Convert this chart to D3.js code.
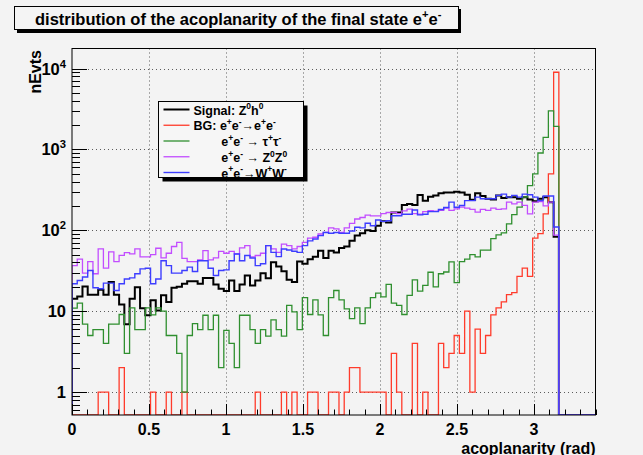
<!DOCTYPE html>
<html>
<head>
<meta charset="utf-8">
<script src="https://cdn.jsdelivr.net/npm/d3@7/dist/d3.min.js"></script>
<style>
    body { margin: 0; background: #f3f3f3; }
    text { font-family: "Liberation Sans", Arial, Helvetica, sans-serif; font-weight: bold; fill: #000; white-space: pre; }
</style>
</head>
<body>
<div id="chart"></div>
<script>
// histogram binning (100 bins over 0..3.4)
const xMin = 0, xMax = 3.4, nBins = 100;

const signal = [
    14.2, 15.2, 20.2, 16, 16, 18.4, 16, 22.9, 16, 12.1,
    6.9, 14.2, 19.8, 10.9, 8.9, 13.6, 10.2, 15.7, 13, 19.5,
    20, 21.8, 23.5, 23.5, 21.8, 25.8, 25.8, 21.4, 18.9, 17.7,
    23.9, 17.7, 21.4, 27.6, 20.7, 23.9, 29.5, 25.6, 40.3, 35.6,
    31.2, 24.4, 22.9, 41, 38.5, 44, 47, 56, 45.5, 56,
    53, 60.5, 63, 74, 86, 92, 100, 98, 114, 129,
    125, 166, 166, 205, 211, 205, 274, 232, 259, 270,
    288, 294, 294, 300, 294, 275, 238, 288, 265, 245,
    240, 270, 250, 257, 257, 245, 257, 240, 228, 245,
    257, 223, 83, 0, 0, 0, 0, 0, 0, 0
];

const bgEE = [
    0, 0, 0, 0, 0, 1, 1, 0, 0, 2,
    0, 0, 0, 0, 0, 1, 0, 0, 1, 0,
    0, 1, 0, 0, 0, 0, 0, 0, 0, 0,
    0, 0, 0, 0, 0, 1, 0, 0, 0, 0,
    1, 0, 1, 0, 0, 1, 1, 0, 0, 1,
    1, 0, 1, 2, 2, 1, 1, 1, 1, 1,
    0, 3, 1, 0, 0, 4, 0, 1, 0, 0,
    4, 2, 3, 5, 3, 10, 1, 6, 3, 5,
    9, 11, 13, 16, 17, 27, 34, 27, 80, 91,
    160, 498, 9000, 0, 0, 0, 0, 0, 0, 0
];

const bgTauTau = [
    10.9, 12.6, 6.9, 5, 5.9, 5.9, 4, 6.9, 6.9, 9.1,
    3, 11, 5.9, 5.9, 11, 9, 11, 10, 5, 5,
    3, 1, 5, 7, 5.9, 8.9, 5.9, 8.9, 2, 5.8,
    4, 2, 8.9, 8.9, 5.9, 4, 5.9, 4.9, 7.8, 5.9,
    4.9, 11.8, 9.8, 5.9, 14.7, 9.1, 13.8, 9, 5, 14.7,
    18, 13.8, 10.7, 8.1, 11, 7, 11, 14.7, 16.7, 15,
    21.4, 12.6, 11.8, 9.1, 15.7, 24.4, 17.7, 20.8, 30.3, 20,
    29, 30.5, 40.6, 22.6, 41, 44, 50, 47, 57, 57,
    79, 88, 93, 120, 156, 193, 257, 357, 498, 903,
    1408, 3000, 1923, 0, 0, 0, 0, 0, 0, 0
];

const bgZZ = [
    36.6, 44, 29.5, 41, 29, 59, 34, 54, 41, 49,
    53, 51, 59, 47, 47, 50, 60, 45.5, 52, 63,
    71, 45, 41, 41, 43, 56, 43, 45.5, 55, 52,
    55, 51, 60.5, 64.6, 47, 48.8, 52, 64.6, 59, 53.4,
    67.5, 64.6, 59, 63, 71, 80, 82, 90, 94, 107,
    104, 94, 107, 122, 138, 144, 154, 151, 151, 161,
    166, 166, 161, 174, 183, 161, 158, 170, 175, 172,
    176, 188, 176, 184, 193, 188, 181, 168, 181, 176,
    188, 181, 184, 223, 212, 223, 203, 160, 223, 226,
    200, 223, 87, 0, 0, 0, 0, 0, 0, 0
];

const bgWW = [
    21.8, 23.9, 26.4, 31.8, 19.5, 18.9, 22.2, 22.2, 18, 21.8,
    25, 25.8, 29, 33.3, 34, 21.8, 25, 42, 36.6, 29.5,
    29.5, 31.8, 35, 31, 42, 42, 34, 27.6, 31.8, 32.4,
    42, 51, 42, 48.8, 45.5, 36.6, 38.5, 64.6, 53.4, 47.2,
    58.6, 57, 55, 53.4, 64.6, 74, 78, 86, 94, 92,
    94, 92, 92, 98, 109, 107, 122, 114, 134, 129,
    131, 151, 151, 158, 158, 178, 155, 158, 170, 170,
    181, 191, 223, 193, 203, 233, 233, 257, 245, 245,
    245, 270, 280, 257, 270, 257, 280, 275, 257, 233,
    265, 265, 110, 0, 0, 0, 0, 0, 0, 0
];

const xTicks = [0, 0.5, 1, 1.5, 2, 2.5, 3];
const xTickLabels = ["0", "0.5", "1", "1.5", "2", "2.5", "3"];
const yTicks = [1, 10, 100, 1000, 10000];
const yTickLabels = ["1", "10", "10^{2}", "10^{3}", "10^{4}"];

const titleText = "distribution of the acoplanarity of the final state e^{+}e^{-}";
const xTitle = "acoplanarity (rad)";
const yTitle = "nEvts";

const seriesNames = ["signal", "ee", "tautau", "zz", "ww"];
const legendLabels = [
    "Signal: Z^{0}h^{0}",
    "BG: e^{+}e^{-}\u2192e^{+}e^{-}",
    "        e^{+}e^{-} \u2192 \u03c4^{+}\u03c4^{-}",
    "        e^{+}e^{-} \u2192 Z^{0}Z^{0}",
    "        e^{+}e^{-}\u2192W^{+}W^{-}"
];
const seriesColors = ["#000000", "#ff3b2b", "#2f8f2f", "#c24dff", "#3d3dff"];
const seriesWidths = [2, 1.3, 1.3, 1.3, 1.4];
const seriesData = [signal, bgEE, bgTauTau, bgZZ, bgWW];

// ---- layout
const width = 643, height = 455;
const frame = { left: 72, right: 595.5, top: 48.5, bottom: 415 };

const xScale = d3.scaleLinear()
    .domain([xMin, xMax])
    .range([frame.left, frame.right]);

const yScale = d3.scaleLog()
    .domain([0.52, 17700])
    .range([frame.bottom, frame.top]);

const binW = (xMax - xMin) / nBins;

// TLatex-ish "^{..}" superscripts
const rich = (sel, str, size) => {
    const parts = str.split(/(\^\{[^}]*\})/).filter(s => s.length);
    let up = false;
    parts.forEach(p => {
        if (p.startsWith("^{")) {
            sel.append("tspan")
                .attr("dy", up ? 0 : -size * 0.42)
                .attr("font-size", size * 0.68)
                .text(p.slice(2, -1));
            up = true;
        } else {
            sel.append("tspan")
                .attr("dy", up ? size * 0.42 : 0)
                .attr("font-size", size)
                .text(p);
            up = false;
        }
    });
};

const svg = d3.select("#chart")
    .append("svg")
    .attr("width", width)
    .attr("height", height)
    .style("display", "block");

svg.append("rect")
    .attr("width", width)
    .attr("height", height)
    .attr("fill", "#f3f3f3");

// grid
const grid = svg.append("g")
    .attr("stroke", "#333")
    .attr("stroke-width", 0.8)
    .attr("stroke-dasharray", "1,3");

grid.selectAll(".vgrid")
    .data(xTicks.filter(d => d > xMin))
    .join("line")
    .attr("x1", d => Math.round(xScale(d)) + 0.5)
    .attr("x2", d => Math.round(xScale(d)) + 0.5)
    .attr("y1", frame.top)
    .attr("y2", frame.bottom);

grid.selectAll(".hgrid")
    .data(yTicks)
    .join("line")
    .attr("x1", frame.left)
    .attr("x2", frame.right)
    .attr("y1", d => Math.round(yScale(d)) + 0.5)
    .attr("y2", d => Math.round(yScale(d)) + 0.5);

// histograms
svg.append("clipPath")
    .attr("id", "clip")
    .append("rect")
    .attr("x", frame.left)
    .attr("y", frame.top)
    .attr("width", frame.right - frame.left)
    .attr("height", frame.bottom - frame.top);

const histPath = values => {
    const yb = frame.bottom;
    const yv = v => v > 0 ? yScale(v) : yb;
    let d = `M${xScale(xMin)},${yb}`;
    values.forEach((v, i) => {
        d += `V${yv(v)}H${xScale(xMin + (i + 1) * binW)}`;
    });
    return d + `V${yb}`;
};

svg.append("g")
    .attr("clip-path", "url(#clip)")
    .selectAll("path")
    .data(seriesData)
    .join("path")
    .attr("class", (d, i) => "hist " + seriesNames[i])
    .attr("d", histPath)
    .attr("fill", "none")
    .attr("stroke", (d, i) => seriesColors[i])
    .attr("stroke-width", (d, i) => seriesWidths[i])
    .attr("stroke-linejoin", "miter");

// frame
svg.append("rect")
    .attr("x", frame.left)
    .attr("y", frame.top)
    .attr("width", frame.right - frame.left)
    .attr("height", frame.bottom - frame.top)
    .attr("fill", "none")
    .attr("stroke", "#000")
    .attr("stroke-width", 1);

// x axis ticks (inside frame)
const xMinor = d3.range(0, 35).map(i => i * 0.1).filter(d => d <= xMax + 1e-9);
svg.append("g")
    .attr("stroke", "#000")
    .attr("stroke-width", 1)
    .selectAll("line")
    .data(xMinor)
    .join("line")
    .attr("x1", d => Math.round(xScale(d)) + 0.5)
    .attr("x2", d => Math.round(xScale(d)) + 0.5)
    .attr("y1", frame.bottom)
    .attr("y2", d => frame.bottom - (xTicks.some(t => Math.abs(t - d) < 1e-6) ? 11 : 5.5));

svg.append("g")
    .selectAll("text")
    .data(xTicks)
    .join("text")
    .attr("x", d => xScale(d))
    .attr("y", 435)
    .attr("text-anchor", "middle")
    .attr("font-size", 16)
    .text((d, i) => xTickLabels[i]);

svg.append("text")
    .attr("x", frame.right)
    .attr("y", 453.5)
    .attr("text-anchor", "end")
    .attr("font-size", 16)
    .text(xTitle);

// y axis ticks (log)
const yMinor = [];
[0.1, 1, 10, 100, 1000].forEach(dec => {
    d3.range(2, 10).forEach(m => {
        const v = m * dec;
        if (v >= yScale.domain()[0] && v <= yScale.domain()[1]) yMinor.push(v);
    });
});

svg.append("g")
    .attr("stroke", "#000")
    .attr("stroke-width", 1)
    .selectAll("line")
    .data(yMinor.concat(yTicks))
    .join("line")
    .attr("x1", frame.left)
    .attr("x2", d => frame.left + (yTicks.includes(d) ? 15 : 8))
    .attr("y1", d => Math.round(yScale(d)) + 0.5)
    .attr("y2", d => Math.round(yScale(d)) + 0.5);

svg.append("g")
    .selectAll("text")
    .data(yTicks)
    .join("text")
    .attr("x", 66)
    .attr("y", d => yScale(d) + 6)
    .attr("text-anchor", "end")
    .each(function (d, i) { rich(d3.select(this), yTickLabels[i], 16.5); });

svg.append("text")
    .attr("transform", `translate(41,50) rotate(-90)`)
    .attr("text-anchor", "end")
    .attr("font-size", 16)
    .text(yTitle);

// title pave
const title = svg.append("g");
title.append("rect")
    .attr("x", 17).attr("y", 9)
    .attr("width", 444).attr("height", 24)
    .attr("fill", "#000");
title.append("rect")
    .attr("x", 14.5).attr("y", 6.5)
    .attr("width", 444).attr("height", 23)
    .attr("fill", "#f4f4f4")
    .attr("stroke", "#000")
    .attr("stroke-width", 1);
title.append("text")
    .attr("x", 35)
    .attr("y", 25)
    .attr("font-size", 16.5)
    .each(function () { rich(d3.select(this), titleText, 16.5); });

// legend
const legend = svg.append("g");
const lg = { x: 158.5, y: 101.5, w: 145, h: 76, shadow: 4 };
legend.append("rect")
    .attr("x", lg.x + lg.shadow).attr("y", lg.y + lg.shadow)
    .attr("width", lg.w).attr("height", lg.h)
    .attr("fill", "#000");
legend.append("rect")
    .attr("x", lg.x).attr("y", lg.y)
    .attr("width", lg.w).attr("height", lg.h)
    .attr("fill", "#f6f6f6")
    .attr("stroke", "#000")
    .attr("stroke-width", 1);

const rowY = d3.scaleLinear().domain([0, 4]).range([lg.y + 8, lg.y + 71]);
const entries = legend.selectAll(".entry")
    .data(legendLabels)
    .join("g")
    .attr("class", "entry");

entries.append("line")
    .attr("x1", lg.x + 5)
    .attr("x2", lg.x + 31)
    .attr("y1", (d, i) => rowY(i))
    .attr("y2", (d, i) => rowY(i))
    .attr("stroke", (d, i) => seriesColors[i])
    .attr("stroke-width", (d, i) => seriesWidths[i]);

entries.append("text")
    .attr("x", lg.x + 35)
    .attr("y", (d, i) => rowY(i) + 5)
    .each(function (d) { rich(d3.select(this), d, 12.5); });
</script>
</body>
</html>
